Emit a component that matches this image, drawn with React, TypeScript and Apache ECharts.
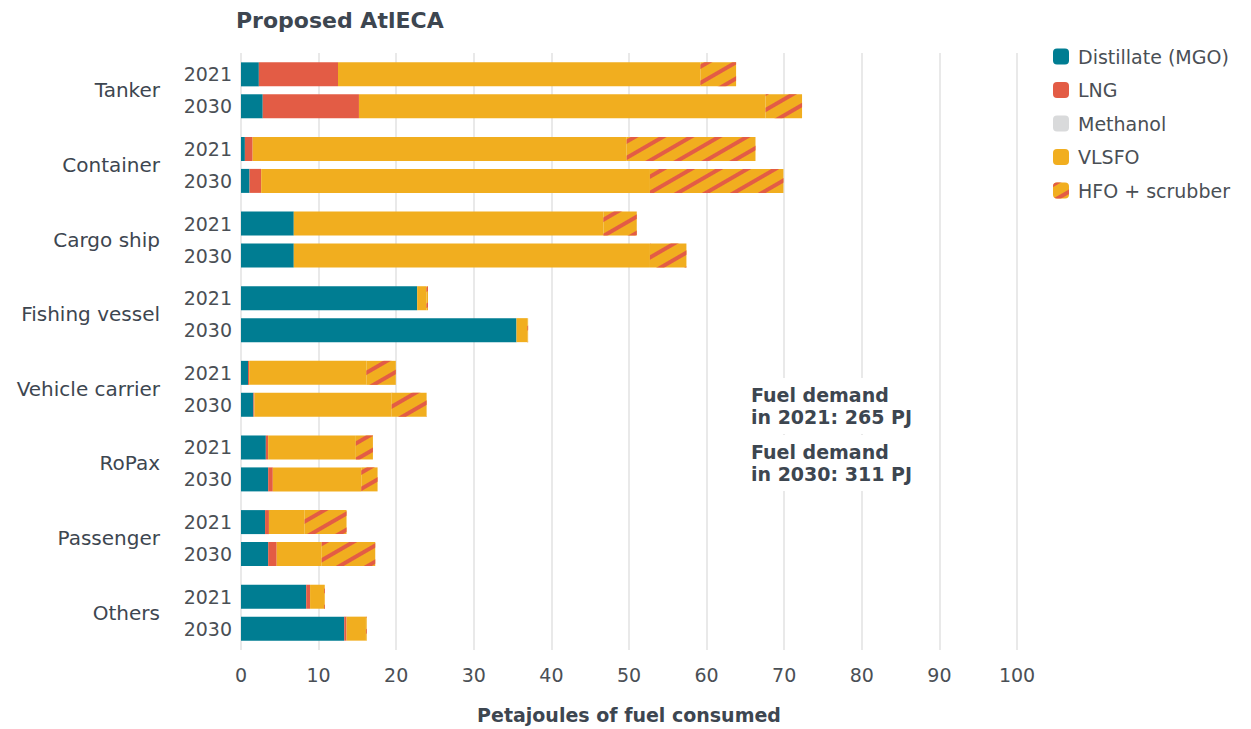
import React, { useEffect, useRef } from "react";
import * as echarts from "echarts";

const categories = ["Tanker", "Container", "Cargo ship", "Fishing vessel", "Vehicle carrier", "RoPax", "Passenger", "Others"];
const years = ["2021", "2030"];
const fuels = ["Distillate (MGO)", "LNG", "Methanol", "VLSFO", "HFO + scrubber"];

const mgo2021 = [2.3, 0.5, 6.8, 22.7, 0.9, 3.2, 3.1, 8.4];
const lng2021 = [10.2, 1.0, 0, 0, 0.15, 0.3, 0.5, 0.5];
const methanol2021 = [0, 0, 0, 0, 0, 0, 0, 0];
const vlsfo2021 = [46.7, 48.2, 39.9, 1.2, 15.1, 11.3, 4.6, 1.8];
const hfo2021 = [4.6, 16.6, 4.3, 0.2, 3.8, 2.2, 5.4, 0.1];

const mgo2030 = [2.8, 1.1, 6.8, 35.5, 1.6, 3.5, 3.5, 13.3];
const lng2030 = [12.4, 1.5, 0, 0, 0.12, 0.6, 1.1, 0.3];
const methanol2030 = [0, 0, 0, 0, 0, 0, 0, 0];
const vlsfo2030 = [52.4, 50.1, 45.9, 1.4, 17.7, 11.4, 5.8, 2.5];
const hfo2030 = [4.7, 17.2, 4.7, 0.1, 4.5, 2.1, 6.9, 0.1];

const xTicks = [0, 10, 20, 30, 40, 50, 60, 70, 80, 90, 100];
const totals = ["265", "311"];

const colors = ["#007d92", "#e35c45", "#d9dadb", "#f1ae1f", "#f1ae1f"];
const FONT = "'DejaVu Sans', 'Noto Sans', sans-serif";
const DARK = "#3d4650";
const MID = "#4a4f55";

export default function App() {
  const ref = useRef<HTMLDivElement>(null);
  useEffect(() => {
    document.body.style.margin = "0";
    if (!ref.current) return;
    const chart = echarts.init(ref.current, null, { renderer: "svg" });
    const byYear: Record<string, number[][]> = {
      "2021": [mgo2021, lng2021, methanol2021, vlsfo2021, hfo2021],
      "2030": [mgo2030, lng2030, methanol2030, vlsfo2030, hfo2030],
    };
    const series: any[] = [];
    years.forEach((yr) => {
      fuels.forEach((f, i) => {
        const s: any = {
          name: f,
          type: "bar",
          stack: yr,
          barWidth: 24,
          barGap: "33%",
          data: byYear[yr][i],
          itemStyle: { color: colors[i] },
          emphasis: { disabled: true },
        };
        if (i === 4) {
          s.itemStyle.decal = {
            symbol: "rect",
            symbolSize: 1,
            dashArrayX: [1, 0],
            dashArrayY: [3.5, 9.5],
            rotation: -Math.PI / 6,
            color: "#e35c45",
          };
        }
        if (i === 0) {
          s.label = {
            show: true,
            position: "left",
            distance: 9,
            formatter: () => yr,
            fontSize: 19,
            color: MID,
            fontFamily: FONT,
          };
        }
        series.push(s);
      });
    });

    chart.setOption({
      animation: false,
      textStyle: { fontFamily: FONT },
      title: {
        text: "Proposed AtlECA",
        left: 231,
        top: 4,
        textStyle: { fontSize: 22, fontWeight: "bold", color: DARK, fontFamily: FONT },
      },
      legend: {
        orient: "vertical",
        left: 1048,
        top: 42,
        itemWidth: 16,
        itemHeight: 16,
        itemGap: 14.5,
        data: fuels,
        textStyle: { fontSize: 19, color: MID, fontFamily: FONT, padding: [0, 0, 0, 4] },
      },
      grid: { left: 241, right: 234, top: 53, bottom: 77, containLabel: false },
      xAxis: {
        type: "value",
        min: xTicks[0],
        max: xTicks[xTicks.length - 1],
        interval: 10,
        axisLine: { show: false },
        axisTick: { show: false },
        axisLabel: { fontSize: 19, color: MID, margin: 15 },
        splitLine: { lineStyle: { color: "#e2e2e2", width: 1.5 } },
        name: "Petajoules of fuel consumed",
        nameLocation: "middle",
        nameGap: 55,
        nameTextStyle: { fontSize: 19, fontWeight: "bold", color: DARK },
      },
      yAxis: {
        type: "category",
        inverse: true,
        data: categories,
        axisLine: { show: false },
        axisTick: { show: false },
        axisLabel: { fontSize: 20, color: DARK, margin: 81 },
      },
      graphic: years.map((yr, i) => ({
        type: "text",
        left: 745,
        top: 378 + i * 57,
        z: 100,
        style: {
          text: `Fuel demand\nin ${yr}: ${totals[i]} PJ`,
          fontSize: 19,
          fontWeight: "bold",
          fill: DARK,
          lineHeight: 22,
          fontFamily: FONT,
          backgroundColor: "#ffffff",
          padding: [6, 6, 6, 6],
        },
      })),
      series,
    });
    return () => chart.dispose();
  }, []);
  return <div ref={ref} style={{ width: 1251, height: 729 }} />;
}
